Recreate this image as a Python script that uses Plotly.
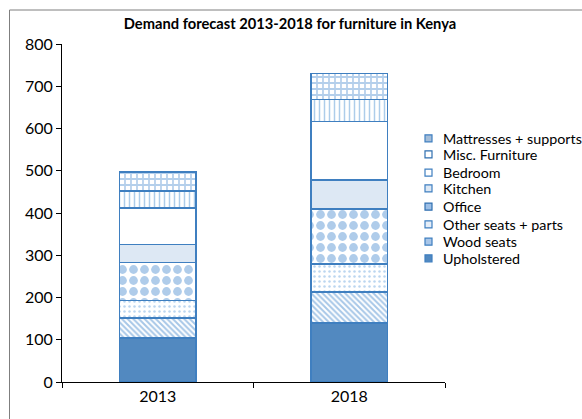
import plotly.graph_objects as go

years = ["2013", "2018"]
series = ["Upholstered", "Wood seats", "Other seats + parts", "Office",
          "Kitchen", "Bedroom", "Misc. Furniture", "Mattresses + supports"]
upholstered = [104, 140]
wood_seats = [47, 73]
other_seats = [42, 66]
office = [90, 130]
kitchen = [43, 69]
bedroom = [86, 139]
misc = [40, 52]
mattresses = [45, 61]
values = [upholstered, wood_seats, other_seats, office, kitchen, bedroom, misc, mattresses]
y_ticks = [0, 100, 200, 300, 400, 500, 600, 700, 800]

styles = [
    dict(color="#5289c0", pattern=dict(shape="")),
    dict(color="white", pattern=dict(shape="\\", fgcolor="#4f8fd0", size=4, solidity=0.5)),
    dict(color="white", pattern=dict(shape=".", fgcolor="#7aaee0", size=5, solidity=0.2)),
    dict(color="white", pattern=dict(shape=".", fgcolor="#5f9ad6", size=11, solidity=0.5)),
    dict(color="#dde8f4", pattern=dict(shape="")),
    dict(color="white", pattern=dict(shape="")),
    dict(color="white", pattern=dict(shape="|", fgcolor="#5b9bd5", size=5, solidity=0.3)),
    dict(color="white", pattern=dict(shape="+", fgcolor="#6a9fd8", size=6, solidity=0.5)),
]
# legend swatch look (fill, border) per series
swatch = [("#5289c0", "#3f7fc0"), ("#a9c6e8", "#3f7fc0"), ("#e6eef8", "#3f7fc0"),
          ("#9dbfe6", "#2f6fb0"), ("#dde8f4", "#3f7fc0"), ("white", "#3f7fc0"),
          ("white", "#2f6fb0"), ("#a4bdd8", "#3f7fc0")]
# legend row centres (pixels from top), same order as series
legend_rows = [258.3, 241.7, 224.3, 206.7, 188.3, 172.7, 154.3, 138.3]

L, R, T, B = 62, 137, 44, 37
W, H = 582, 419
pw, ph = W - L - R, H - T - B


def px_x(p):
    return (p - L) / pw


def px_y(p):
    return (H - B - p) / ph


fig = go.Figure()
for name, vals, st in zip(series, values, styles):
    fig.add_trace(go.Bar(
        x=years, y=vals, name=name, width=0.4,
        marker=dict(color=st["color"], pattern=st["pattern"],
                    line=dict(color="#3f7fc0", width=1.5)),
    ))

fig.update_layout(
    barmode="stack",
    width=W, height=H,
    margin=dict(l=L, r=R, t=T, b=B),
    paper_bgcolor="white", plot_bgcolor="white",
    font=dict(family="Lato, Liberation Sans, sans-serif", size=15, color="#000000"),
    title=dict(text="<b>Demand forecast 2013-2018 for furniture in Kenya</b>",
               x=290 / W, xanchor="center", xref="container",
               y=1 - 24 / H, yanchor="middle", yref="container",
               font=dict(size=14.7, color="#000000")),
    showlegend=False,
)
fig.update_xaxes(type="category", showline=True, linecolor="#000000", linewidth=1,
                 ticks="outside", tickson="boundaries", ticklen=5, tickcolor="#000000",
                 showgrid=False, tickfont=dict(size=16))
fig.update_yaxes(range=[0, 800], tickvals=y_ticks, showline=True, linecolor="#000000",
                 linewidth=1, ticks="outside", ticklen=5, tickcolor="#000000",
                 showgrid=False, zeroline=False, tickfont=dict(size=16))

# manual legend: swatches + real text
for name, (fc, lc), yc in zip(series, swatch, legend_rows):
    fig.add_shape(type="rect", xref="paper", yref="paper",
                  x0=px_x(425), x1=px_x(432), y0=px_y(yc + 3.5), y1=px_y(yc - 3.5),
                  fillcolor=fc, line=dict(color=lc, width=1.2))
    fig.add_annotation(x=px_x(441), y=px_y(yc), xref="paper", yref="paper",
                       text=name, showarrow=False, xanchor="left", yanchor="middle",
                       font=dict(size=14.3, color="#000000"))

# chart frame (left and top edges visible in reference)
fig.add_shape(type="line", xref="paper", yref="paper",
              x0=px_x(9.5), x1=px_x(584), y0=px_y(10), y1=px_y(10),
              line=dict(color="#7f7f7f", width=1))
fig.add_shape(type="line", xref="paper", yref="paper",
              x0=px_x(9.5), x1=px_x(9.5), y0=px_y(422), y1=px_y(10),
              line=dict(color="#7f7f7f", width=1))

fig.write_html("out.html", config={"displayModeBar": False},
               post_script="document.body.style.margin='0';document.body.style.overflow='hidden';")
